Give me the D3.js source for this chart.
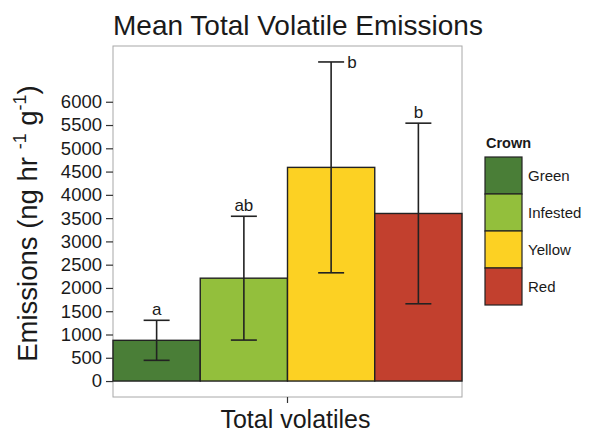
<!DOCTYPE html>
<html>
<head>
<meta charset="utf-8">
<title>Mean Total Volatile Emissions</title>
<style>
	body { margin: 0; background: #fff; }
	svg { display: block; font-family: "Liberation Sans", Arial, sans-serif; }
</style>
</head>
<body>
<svg id="chart" width="592" height="433"></svg>
<script src="https://d3js.org/d3.v7.min.js"></script>
<script>
// crown classes, mean emissions and standard error
var crowns = ["Green", "Infested", "Yellow", "Red"];
var colors = ["#4a7e37", "#93bf3c", "#fcd123", "#c2402e"];
var means = [875, 2210, 4590, 3600];
var errors = [430, 1330, 2265, 1940];
var letters = ["a", "ab", "b", "b"];
var yTicks = d3.range(0, 6001, 500);

var svg = d3.select("#chart");

var pLeft = 113, pRight = 462, pTop = 46, pBottom = 397;

var maxVal = d3.max(means, (m, i) => m + errors[i]);
var y = d3.scaleLinear()
	.domain([-maxVal * 0.05, maxVal * 1.05])
	.range([pBottom, pTop]);

var x = d3.scaleBand()
	.domain(crowns)
	.range([pLeft, pRight])
	.padding(0);

// title
svg.append("text")
	.attr("x", 113).attr("y", 35)
	.attr("font-size", 28)
	.attr("fill", "#1a1a1a")
	.text("Mean Total Volatile Emissions");

// panel border
svg.append("rect")
	.attr("x", pLeft).attr("y", pTop)
	.attr("width", pRight - pLeft).attr("height", pBottom - pTop)
	.attr("fill", "#fff")
	.attr("stroke", "#a8a8a8")
	.attr("stroke-width", 1);

// bars
svg.append("g").selectAll("rect")
	.data(crowns)
	.enter().append("rect")
	.attr("x", d => x(d))
	.attr("y", (d, i) => y(means[i]))
	.attr("width", x.bandwidth())
	.attr("height", (d, i) => y(0) - y(means[i]))
	.attr("fill", (d, i) => colors[i])
	.attr("stroke", "#222")
	.attr("stroke-width", 1.4);

// error bars
var cap = 13;
var eb = svg.append("g")
	.attr("stroke", "#222")
	.attr("stroke-width", 1.6);

crowns.forEach(function(c, i) {
	var cx = x(c) + x.bandwidth() / 2;
	var hi = y(means[i] + errors[i]), lo = y(means[i] - errors[i]);
	eb.append("line").attr("x1", cx).attr("x2", cx).attr("y1", hi).attr("y2", lo);
	eb.append("line").attr("x1", cx - cap).attr("x2", cx + cap).attr("y1", hi).attr("y2", hi);
	eb.append("line").attr("x1", cx - cap).attr("x2", cx + cap).attr("y1", lo).attr("y2", lo);

	// significance letters: above the cap, or beside it when there is no room
	var t = svg.append("text")
		.attr("font-size", 17)
		.attr("fill", "#1a1a1a")
		.text(letters[i]);
	if (hi - 22 < pTop) {
		t.attr("x", cx + cap + 3).attr("y", hi + 6);
	} else {
		t.attr("x", cx).attr("y", hi - 5).attr("text-anchor", "middle");
	}
});

// y axis
var yAxis = svg.append("g")
	.attr("transform", `translate(${pLeft},0)`)
	.call(d3.axisLeft(y).tickValues(yTicks).tickFormat(d3.format("d")).tickSize(7).tickPadding(4));
yAxis.select(".domain").remove();
yAxis.selectAll(".tick line").attr("stroke", "#333").attr("stroke-width", 1.2);
yAxis.selectAll(".tick text")
	.attr("font-size", 18.5)
	.attr("fill", "#1a1a1a")
	.attr("font-family", "Liberation Sans, Arial, sans-serif");

// x axis: single category tick
var xMid = (pLeft + pRight) / 2;
svg.append("line")
	.attr("x1", xMid).attr("x2", xMid)
	.attr("y1", pBottom).attr("y2", pBottom + 6)
	.attr("stroke", "#333").attr("stroke-width", 1.2);

svg.append("text")
	.attr("x", xMid + 8).attr("y", 428)
	.attr("text-anchor", "middle")
	.attr("font-size", 25)
	.attr("fill", "#1a1a1a")
	.text("Total volatiles");

// y axis title with superscripts
var yt = svg.append("text")
	.attr("transform", `translate(37,${(pTop + pBottom) / 2 + 2}) rotate(-90)`)
	.attr("text-anchor", "middle")
	.attr("font-size", 27.5)
	.attr("fill", "#1a1a1a");
yt.append("tspan").text("Emissions (ng hr ");
yt.append("tspan").attr("font-size", 18).attr("dy", -11).text("-1");
yt.append("tspan").attr("dy", 11).text(" g");
yt.append("tspan").attr("font-size", 18).attr("dy", -11).text("-1");
yt.append("tspan").attr("dy", 11).text(")");

// legend
var lg = svg.append("g").attr("transform", "translate(485,157)");
lg.append("text")
	.attr("x", 1).attr("y", -9)
	.attr("font-size", 14.5)
	.attr("font-weight", "bold")
	.attr("fill", "#1a1a1a")
	.text("Crown");

var key = 37;
lg.selectAll("rect")
	.data(crowns)
	.enter().append("rect")
	.attr("x", 0)
	.attr("y", (d, i) => i * key)
	.attr("width", key).attr("height", key)
	.attr("fill", (d, i) => colors[i])
	.attr("stroke", "#222")
	.attr("stroke-width", 1.2);

lg.selectAll(".lab")
	.data(crowns)
	.enter().append("text")
	.attr("class", "lab")
	.attr("x", key + 6)
	.attr("y", (d, i) => i * key + key / 2 + 5)
	.attr("font-size", 15)
	.attr("fill", "#1a1a1a")
	.text(d => d);
</script>
</body>
</html>
